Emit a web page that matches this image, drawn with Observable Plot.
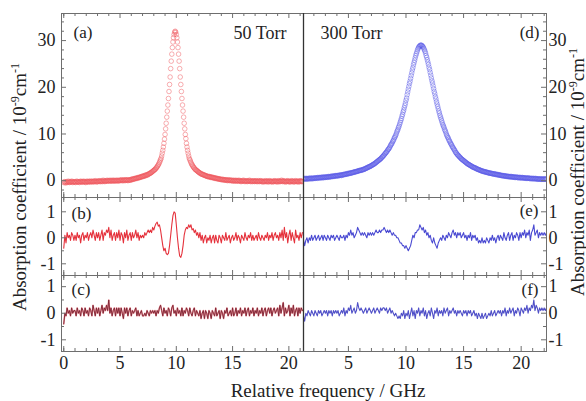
<!DOCTYPE html>
<html><head><meta charset="utf-8">
<script src="https://cdn.jsdelivr.net/npm/d3@7"></script>
<script src="https://cdn.jsdelivr.net/npm/@observablehq/plot@0.6"></script>
<style>
body{margin:0;background:#fff;}
#chart{position:relative;width:586px;height:401px;overflow:hidden;font-family:"Liberation Serif","Times New Roman",serif;color:#222;}
.ttl{position:absolute;font-size:19px;white-space:nowrap;line-height:1;}
.ttl sup{font-size:12px;vertical-align:7px;line-height:0;}
</style></head>
<body><div id="chart"></div>
<script>
// ---------- data ----------
// (a) 50 Torr measured absorption, 10^-9 cm^-1, sampled from 0 GHz every 0.05 GHz
const aStart = 0, aStep = 0.05;
const absA = [
-0.4,-0.2,-0.3,-0.5,-0.3,-0.2,-0.4,-0.3,-0.1,-0.3,-0.4,-0.2,-0.3,-0.3,-0.1,-0.2,-0.4,-0.3,-0.2,-0.3,
-0.2,-0.4,-0.3,-0.1,-0.2,-0.3,-0.3,-0.2,-0.4,-0.2,-0.1,-0.3,-0.2,-0.3,-0.2,-0.1,-0.3,-0.2,-0.2,-0.4,
-0.3,-0.1,-0.2,-0.2,-0.3,-0.1,-0.2,-0.3,-0.1,-0.2,-0.2,-0.1,-0.3,-0.2,-0.1,-0.2,0,-0.2,-0.1,-0.3,
-0.2,-0.1,-0.1,0,-0.2,-0.1,-0.2,0,-0.1,-0.2,0.1,-0.1,0,-0.2,-0.1,0,-0.1,0.1,-0.1,0,
0,-0.1,0.1,0,-0.1,0,0.1,-0.1,0,0.1,0,-0.1,0,0.1,0,0,0.1,-0.1,0,0.1,
0.1,0,0.1,0.2,0,0.1,0,0.2,0.1,0,0.2,0.1,0.1,0.2,0,0.1,0.2,0.1,0.2,0.1,
0.3,0.2,0.4,0.3,0.3,0.4,0.5,0.4,0.5,0.5,0.6,0.5,0.7,0.6,0.7,0.7,0.8,0.7,0.9,0.9,
0.9,1.0,0.9,1.1,1.0,1.2,1.1,1.2,1.3,1.2,1.4,1.4,1.5,1.6,1.6,1.7,1.8,1.9,2.0,2.1,
2.2,2.3,2.4,2.5,2.7,2.8,3.0,3.2,3.4,3.6,3.9,4.2,4.5,4.8,5.3,5.9,6.5,7.2,8.0,8.9,
9.9,11.1,12.3,13.6,14.9,16.2,17.6,19.1,20.6,22.2,24.0,25.6,27.1,28.5,29.7,30.6,31.3,31.8,32.0,
31.8,31.3,30.6,29.7,28.5,27.1,25.6,24.0,22.2,20.6,19.1,17.6,16.2,14.9,13.6,12.3,11.1,9.9,9.0,
8.0,7.2,6.5,5.9,5.3,4.8,4.5,4.2,3.9,3.6,3.4,3.2,3.0,2.8,2.7,2.5,2.4,2.3,2.2,
2.1,2.0,1.9,1.8,1.7,1.7,1.5,1.5,1.4,1.4,1.3,1.3,1.2,1.2,1.1,1.1,1.0,1.0,0.9,0.9,
0.9,0.8,0.9,0.8,0.7,0.8,0.7,0.7,0.6,0.7,0.6,0.5,0.6,0.5,0.5,0.4,0.5,0.4,0.4,0.3,
0.4,0.3,0.3,0.2,0.3,0.2,0.3,0.2,0.1,0.2,0.2,0.1,0.2,0.1,0.0,0.1,0.2,0.1,0.0,0.1,
0.1,0.0,0.1,-0.1,0.0,0.1,0.0,-0.1,0.0,0.1,-0.1,0.0,0.0,-0.1,0.1,0.0,-0.1,0.0,-0.2,-0.1,
0.0,-0.1,0.1,-0.1,0.0,-0.2,-0.1,0.0,-0.1,-0.2,0.0,-0.1,-0.1,0.1,-0.1,-0.2,0.0,-0.1,-0.2,-0.1,
-0.1,0.0,-0.2,-0.1,-0.1,0.0,-0.2,-0.1,-0.2,0.0,-0.1,-0.2,-0.1,0.0,-0.1,-0.2,-0.1,-0.3,-0.1,-0.2,
-0.1,-0.2,0.0,-0.2,-0.1,-0.1,-0.3,-0.1,-0.2,0.0,-0.1,-0.2,-0.2,-0.1,-0.3,-0.1,-0.2,-0.1,0.0,-0.2,
-0.1,-0.2,-0.1,-0.3,-0.1,0.0,-0.2,-0.1,-0.2,-0.1,0.1,-0.1,-0.2,0.0,-0.1,-0.2,-0.1,-0.3,-0.1,-0.2,
-0.1,0.0,-0.2,-0.1,-0.2,-0.3,-0.1,-0.2,0.0,-0.1,-0.2,-0.1,-0.3,-0.2,-0.1,0.0,-0.2,-0.1,-0.2,-0.1,-0.3,-0.1,-0.2,0.0,-0.1,-0.2,-0.1,-0.2
];
// (d) 300 Torr measured absorption, sampled from 1.1 GHz every 0.05 GHz
const dStart = 1.1, dStep = 0.05;
const absD = [
0.4,0.3,0.5,0.4,0.4,0.5,0.3,0.4,0.5,0.4,0.5,0.4,0.6,0.4,0.5,0.5,0.4,0.6,0.5,0.5,
0.6,0.5,0.6,0.6,0.5,0.7,0.6,0.6,0.7,0.6,0.7,0.6,0.7,0.8,0.6,0.7,0.8,0.7,0.7,0.8,
0.8,0.7,0.8,0.9,0.8,0.8,0.9,0.8,0.9,1.0,0.9,0.9,1.0,0.9,1.0,1.1,1.0,1.0,1.1,1.1,
1.0,1.1,1.2,1.1,1.2,1.2,1.1,1.3,1.2,1.3,1.3,1.4,1.3,1.4,1.4,1.5,1.4,1.5,1.6,1.5,
1.6,1.6,1.6,1.7,1.7,1.7,1.8,1.8,1.8,1.9,1.9,1.9,2.0,2.0,2.0,2.1,2.1,2.2,2.2,2.2,
2.2,2.3,2.3,2.4,2.4,2.4,2.5,2.6,2.6,2.7,2.7,2.8,2.9,2.9,3.0,3.0,3.1,3.2,3.2,3.3,
3.4,3.5,3.5,3.6,3.7,3.8,3.9,4.0,4.1,4.2,4.3,4.4,4.5,4.6,4.7,4.8,5.0,5.1,5.2,5.4,
5.5,5.7,5.8,6.0,6.1,6.3,6.5,6.7,6.8,7.0,7.2,7.5,7.7,7.9,8.1,8.4,8.6,8.9,9.2,9.4,
9.7,10.0,10.4,10.7,11.0,11.4,11.7,12.1,12.5,12.9,13.3,13.8,14.2,14.7,15.1,15.6,16.1,16.6,17.2,17.7,
18.4,19.0,19.6,20.2,20.8,21.3,21.9,22.5,23.1,23.7,24.2,24.8,25.3,25.8,26.3,26.8,27.2,27.6,28.0,28.3,
28.6,28.7,28.9,29.0,29.0,
29.0,28.9,28.7,28.6,28.3,28.0,27.7,27.3,26.8,26.4,25.9,25.4,24.9,24.3,23.8,23.2,22.6,22.0,21.4,
20.9,20.3,19.7,19.1,18.6,18.0,17.5,16.9,16.4,15.9,15.4,14.9,14.5,14.0,13.6,13.2,12.8,12.4,12.0,11.7,
11.4,11.0,10.7,10.4,10.0,9.7,9.4,9.2,8.9,8.6,8.4,8.1,7.9,7.7,7.4,7.2,7.0,6.8,6.6,6.4,
6.1,6.0,5.8,5.6,5.5,5.4,5.2,5.1,5.0,4.8,4.7,4.6,4.5,4.4,4.3,4.2,4.1,4.0,3.9,3.8,
3.7,3.6,3.5,3.5,3.4,3.3,3.2,3.2,3.1,3.0,2.9,2.9,2.8,2.8,2.7,2.7,2.6,2.5,2.5,2.4,
2.4,2.3,2.3,2.2,2.2,2.1,2.1,2.0,2.0,2.0,1.9,1.9,1.9,1.8,1.8,1.8,1.7,1.7,1.7,1.6,
1.6,1.6,1.6,1.5,1.5,1.5,1.4,1.5,1.4,1.4,1.3,1.4,1.3,1.3,1.2,1.3,1.2,1.2,1.2,1.1,
1.1,1.1,1.1,1.0,1.1,1.0,1.0,1.0,0.9,1.0,0.9,0.9,0.9,0.9,0.8,0.9,0.8,0.9,0.8,0.8,
0.8,0.8,0.7,0.8,0.7,0.7,0.8,0.7,0.7,0.6,0.7,0.7,0.6,0.7,0.6,0.6,0.7,0.6,0.6,0.6,
0.6,0.5,0.6,0.5,0.6,0.5,0.5,0.6,0.5,0.5,0.4,0.5,0.5,0.4,0.5,0.4,0.5,0.4,0.4,0.5,
0.4,0.4,0.3,0.4,0.4,0.3,0.4,0.3,0.4,0.3,0.3,0.4,0.3,0.3,0.4,0.3,0.3,0.4,0.3
];
// residuals, every 0.1 GHz
const resStep = 0.1;
const resB = [ // (b) 50 Torr, first model, from 0 GHz
-0.4,0.1,-0.2,0.2,0.0,0.1,-0.1,0.2,0.1,-0.1,
0.1,-0.1,0.2,0.0,0.1,-0.2,0.1,0.2,-0.1,0.1,
0.0,0.2,-0.1,0.1,0.2,0.0,0.3,0.1,-0.1,0.2,
0.0,0.2,-0.1,0.1,0.3,-0.1,0.2,0.1,0.3,0.2,
0.4,0.0,0.3,-0.1,0.1,0.2,-0.1,0.2,0.0,0.3,
-0.1,0.2,0.1,-0.2,0.2,0.0,0.3,-0.1,0.1,0.2,
-0.1,0.2,0.0,0.1,0.3,0.0,0.2,-0.1,0.1,0.0,
0.1,0.0,0.2,0.1,0.2,0.3,0.2,0.3,0.2,0.4,
0.3,0.45,0.55,0.6,0.45,0.5,0.3,0.0,-0.3,-0.5,
-0.4,-0.6,-0.65,-0.6,-0.3,0.1,0.5,0.85,1.0,0.95,
0.5,0.0,-0.4,-0.7,-0.75,-0.6,-0.3,0.1,0.3,0.4,
0.35,0.5,0.4,0.5,0.3,0.35,0.2,0.3,0.1,0.2,
0.0,0.2,-0.1,0.1,-0.2,0.0,0.1,-0.2,0.0,-0.1,
0.1,-0.2,0.0,0.1,-0.2,0.1,-0.1,-0.2,0.1,0.0,
-0.2,0.1,0.0,-0.1,0.2,-0.1,0.0,0.1,-0.2,0.0,
0.1,-0.1,0.0,0.2,-0.1,0.1,0.0,-0.2,0.1,0.0,
-0.1,0.2,0.0,-0.1,0.1,0.0,0.2,-0.1,0.1,-0.1,
0.0,0.1,-0.1,0.2,0.0,-0.1,0.1,0.0,-0.1,0.1,
0.0,0.2,-0.1,0.1,0.0,0.2,-0.1,0.1,0.2,0.0,
0.1,-0.1,0.2,0.0,0.3,-0.1,0.4,0.0,0.2,-0.2,
0.1,0.3,-0.1,0.2,0.0,-0.2,0.3,0.0,0.1,-0.1,
0.2,0.0,0.2
];
const resC = [ // (c) 50 Torr, second model, from 0 GHz
-0.4,0.0,-0.1,0.2,0.0,0.1,-0.1,0.2,0.0,0.1,
0.1,-0.1,0.2,0.0,0.1,-0.1,0.2,0.1,-0.1,0.2,
0.0,0.1,-0.1,0.2,0.1,-0.1,0.3,0.1,-0.1,0.2,
0.0,0.2,-0.1,0.1,0.3,0.0,0.2,0.1,0.3,0.1,
0.5,0.0,0.2,-0.1,0.1,0.2,-0.1,0.2,0.0,0.2,
-0.1,0.2,0.0,-0.2,0.2,0.0,0.2,-0.1,0.1,0.2,
-0.1,0.1,0.0,0.1,0.2,-0.1,0.1,-0.1,0.0,0.1,
-0.1,-0.1,0.0,-0.1,0.1,0.0,-0.1,0.1,0.0,0.1,
0.0,0.1,-0.1,0.1,0.0,0.2,0.3,0.1,-0.1,0.2,
0.0,0.1,-0.1,0.2,0.1,-0.1,0.2,0.3,0.0,0.1,
-0.1,0.2,0.0,0.1,-0.1,0.2,-0.1,0.1,0.0,0.2,
0.1,-0.1,0.2,0.0,-0.1,0.1,0.2,-0.1,0.1,0.0,
-0.1,0.1,-0.2,0.0,0.1,-0.2,0.1,0.0,-0.2,0.1,
0.0,-0.2,0.1,0.0,-0.1,0.2,-0.1,0.0,0.1,-0.2,
0.1,0.0,-0.2,0.1,0.0,0.2,-0.1,0.0,0.1,-0.1,
0.2,-0.1,0.0,0.2,-0.1,0.1,0.0,0.2,-0.1,0.1,
0.0,0.2,-0.1,0.1,0.2,-0.1,0.1,0.0,0.2,-0.1,
0.1,0.0,0.2,-0.1,0.1,0.0,0.2,-0.1,0.1,0.2,
-0.1,0.1,0.2,0.0,0.2,-0.1,0.1,0.2,0.0,0.1,
0.2,-0.1,0.3,0.0,0.2,0.4,-0.1,0.2,0.0,0.1,
0.3,-0.1,0.2,0.0,0.3,-0.1,0.1,0.2,-0.1,0.2,
0.0,0.2,0.1
];
const resE = [ // (e) 300 Torr, first model, from 1.1 GHz
-0.1,-0.3,-0.1,0.0,-0.2,0.0,-0.1,0.1,-0.1,0.0,
0.1,-0.1,0.0,0.1,-0.1,0.0,0.1,-0.1,0.1,0.0,
-0.1,0.1,0.0,-0.1,0.1,0.0,0.1,-0.1,0.0,0.1,
0.0,-0.1,0.1,0.0,0.0,0.1,-0.1,0.1,0.0,0.2,
0.1,0.3,0.1,0.2,0.0,0.1,0.2,0.4,0.3,0.2,
0.1,0.2,0.1,0.2,0.1,0.0,0.2,0.1,0.2,0.1,
0.2,0.1,0.2,0.3,0.2,0.2,0.3,0.2,0.3,0.3,
0.4,0.3,0.2,0.3,0.2,0.3,0.2,0.1,0.2,0.1,
0.1,0.0,0.0,-0.1,-0.2,-0.2,-0.3,-0.3,-0.4,-0.3,
-0.4,-0.5,-0.4,-0.3,-0.1,0.1,0.0,0.2,0.2,0.3,
0.3,0.5,0.4,0.3,0.4,0.2,0.3,0.1,0.2,0.0,
0.1,-0.1,-0.2,0.0,-0.2,-0.3,-0.4,-0.2,-0.1,0.0,
-0.1,0.1,0.0,-0.1,0.1,0.0,0.2,0.1,0.0,0.2,
0.3,0.1,0.2,0.0,0.2,0.1,0.2,0.0,0.1,0.2,
0.0,0.1,-0.1,0.1,0.0,0.2,-0.1,0.1,0.0,0.1,
-0.1,0.0,-0.2,-0.1,-0.2,0.0,-0.2,-0.1,-0.2,0.0,
-0.1,-0.2,0.0,-0.1,0.1,-0.1,0.0,-0.2,0.0,0.1,
-0.1,0.1,0.0,-0.1,0.2,0.0,-0.1,0.1,0.2,-0.1,
0.1,0.2,-0.1,0.1,0.0,0.2,0.1,-0.1,0.2,0.0,
0.2,0.1,0.3,0.0,0.2,0.1,0.3,-0.1,0.2,0.3,
0.5,0.1,0.2,0.3,0.0,0.2,0.1,0.2,0.1,0.2,
0.1,0.2
];
const resF = [ // (f) 300 Torr, second model, from 1.1 GHz
-0.1,-0.3,0.0,-0.1,0.1,0.0,-0.1,0.1,0.0,-0.1,
0.1,0.0,-0.1,0.1,0.0,0.1,-0.1,0.0,0.1,0.0,
0.1,-0.1,0.1,0.0,0.1,-0.1,0.1,0.0,0.1,0.0,
0.1,-0.1,0.0,0.1,0.0,0.2,-0.1,0.1,0.0,0.2,
0.1,0.3,0.0,0.1,0.2,0.0,0.1,0.4,0.2,0.1,
0.2,0.1,0.0,0.1,0.2,0.0,0.1,0.2,0.1,0.0,
0.1,0.2,0.0,0.1,0.2,0.1,0.0,0.2,0.1,0.2,
0.2,0.1,0.2,0.0,0.1,0.2,0.0,0.1,0.0,-0.1,
0.0,-0.1,-0.2,-0.1,-0.2,0.0,-0.1,0.1,-0.2,0.0,
-0.1,0.1,-0.2,0.0,0.2,-0.1,0.1,-0.2,0.1,0.0,
0.2,-0.1,0.1,0.0,0.2,-0.1,0.1,-0.2,0.0,0.1,
-0.1,0.2,0.0,-0.2,0.1,0.0,0.2,-0.1,0.1,0.0,
0.1,-0.1,0.2,0.0,0.1,0.2,-0.1,0.1,0.0,0.1,
0.2,0.0,0.1,-0.1,0.1,0.0,0.1,0.0,-0.1,0.1,
0.0,0.1,-0.1,0.1,0.0,0.1,-0.1,0.0,0.1,-0.1,
0.0,-0.2,0.0,-0.1,-0.2,0.0,-0.2,-0.1,0.0,-0.2,
-0.1,0.0,-0.1,0.1,-0.1,0.0,0.1,-0.1,0.0,0.1,
0.0,0.1,-0.1,0.1,0.0,0.2,-0.1,0.1,0.0,0.2,
0.0,0.1,0.2,-0.1,0.1,0.0,0.2,0.1,-0.1,0.2,
0.1,0.0,0.2,0.1,0.3,0.0,0.2,0.1,0.3,0.2,
0.5,0.1,0.3,0.2,0.0,0.2,0.1,0.2,0.1,0.2,
0.1,0.2
];
// axes
const xDomainL = [-0.2, 21.3], xDomainR = [1.1, 22.2];
const xTicksL = [0, 5, 10, 15, 20], xTicksR = [5, 10, 15, 20];
const xMinor = [0,1,2,3,4,6,7,8,9,11,12,13,14,16,17,18,19,21,22];
const yDomainPeak = [-3.6, 35.8], yTicksPeak = [0, 10, 20, 30], yMinorPeak = [-2,2,4,6,8,12,14,16,18,22,24,26,28,32,34];
const yDomainRes1 = [-1.45, 1.55], yDomainRes2 = [-1.44, 1.42];
const yTicksRes = [-1, 0, 1], yMinorRes = [-0.5, 0.5];
const panelLabels = ["(a)", "(b)", "(c)", "(d)", "(e)", "(f)"];
const pressures = ["50 Torr", "300 Torr"];
const xTitle = "Relative frequency / GHz";

// ---------- drawing ----------
const chart = document.getElementById("chart");
const SERIF = "Liberation Serif, Times New Roman, serif";
const INK = "#222";
const FRAME = "#6e6e6e";
const series = (vals, start, step) => vals.map((v, i) => ({f: +(start + i * step).toFixed(3), v}));

function addPanel({left, top, w, h, side, bottom, xDomain, yDomain, yTicks, yMinor, xTicks, marks, labels}) {
  const ml = side === "left" ? 50 : 2, mr = side === "right" ? 40 : 2, mt = 2, mb = bottom ? 30 : 2;
  const minorX = xMinor.filter(d => d > xDomain[0] && d < xDomain[1]);
  const tickMarks = [
    Plot.frame({stroke: FRAME, strokeWidth: 1}),
    side === "left"
      ? Plot.tickY(yTicks, {y: d => d, insetRight: w - 5, stroke: FRAME})
      : Plot.tickY(yTicks, {y: d => d, insetLeft: w - 5, stroke: FRAME}),
    side === "left"
      ? Plot.tickY(yMinor, {y: d => d, insetRight: w - 3, stroke: FRAME})
      : Plot.tickY(yMinor, {y: d => d, insetLeft: w - 3, stroke: FRAME}),
    Plot.tickX(xTicks, {x: d => d, insetTop: h - 5, stroke: FRAME}),
    Plot.tickX(minorX, {x: d => d, insetTop: h - 3, stroke: FRAME}),
    Plot.tickX(xTicks, {x: d => d, insetBottom: h - 5, stroke: FRAME}),
    Plot.tickX(minorX, {x: d => d, insetBottom: h - 3, stroke: FRAME}),
    Plot.axisY(yTicks, {anchor: side, label: null, tickSize: 0, tickPadding: side === "left" ? 6 : 2, fontSize: 18, fontFamily: SERIF, fill: INK, tickFormat: d => String(d)})
  ];
  if (bottom) tickMarks.push(Plot.axisX(bottom, {anchor: "bottom", label: null, tickSize: 0, tickPadding: 5, fontSize: 18, fontFamily: SERIF, fill: INK, tickFormat: d => String(d)}));
  if (side === "right") tickMarks.push(Plot.ruleX([xDomain[0]], {stroke: "#333", strokeWidth: 1.3}));
  const svg = Plot.plot({
    width: w + ml + mr, height: h + mt + mb,
    marginLeft: ml, marginRight: mr, marginTop: mt, marginBottom: mb,
    style: `background: transparent; overflow: visible; font-family: ${SERIF}; color: ${INK};`,
    x: bottom ? {domain: xDomain, label: null} : {domain: xDomain, axis: null},
    y: {domain: yDomain, label: null},
    marks: [...marks, ...tickMarks, ...labels]
  });
  svg.style.position = "absolute";
  svg.style.left = (left - ml) + "px";
  svg.style.top = (top - mt) + "px";
  chart.appendChild(svg);
}

const txt = (s, anchor, dx, dy, size) => Plot.text([s], {text: d => d, frameAnchor: anchor, dx, dy, fontSize: size, fontFamily: SERIF, fill: INK});

const L = 61, M = 303, R = 546, T = 13, Y1 = 197, Y2 = 275, B = 351;
const redDot = {x: "f", y: "v", r: 2.3, fill: "none", stroke: "#ee5a5f", strokeOpacity: 0.55, strokeWidth: 0.9, clip: true};
const blueDot = {x: "f", y: "v", r: 2.3, fill: "none", stroke: "#5c5ce6", strokeOpacity: 0.55, strokeWidth: 0.9, clip: true};

// (a)
addPanel({left: L, top: T, w: M - L, h: Y1 - T, side: "left", xDomain: xDomainL, yDomain: yDomainPeak,
  yTicks: yTicksPeak, yMinor: yMinorPeak, xTicks: xTicksL,
  marks: [Plot.dot(series(absA, aStart, aStep), redDot)],
  labels: [txt(panelLabels[0], "top-left", 12, 12, 17), txt(pressures[0], "top-right", -17, 13, 18)]});
// (b)
addPanel({left: L, top: Y1, w: M - L, h: Y2 - Y1, side: "left", xDomain: xDomainL, yDomain: yDomainRes1,
  yTicks: yTicksRes, yMinor: yMinorRes, xTicks: xTicksL,
  marks: [Plot.line(series(resB, 0, resStep), {x: "f", y: "v", stroke: "#e5323c", strokeWidth: 1.1, clip: true})],
  labels: [txt(panelLabels[1], "top-left", 10, 9, 17)]});
// (c)
addPanel({left: L, top: Y2, w: M - L, h: B - Y2, side: "left", bottom: xTicksL, xDomain: xDomainL, yDomain: yDomainRes2,
  yTicks: yTicksRes, yMinor: yMinorRes, xTicks: xTicksL,
  marks: [Plot.line(series(resC, 0, resStep), {x: "f", y: "v", stroke: "#e04a55", strokeWidth: 1.6, strokeOpacity: 0.6, clip: true}),
          Plot.line(series(resC, 0, resStep), {x: "f", y: "v", stroke: "#7a2232", strokeWidth: 0.9, clip: true})],
  labels: [txt(panelLabels[2], "top-left", 10, 7, 17)]});
// (d)
addPanel({left: M, top: T, w: R - M, h: Y1 - T, side: "right", xDomain: xDomainR, yDomain: yDomainPeak,
  yTicks: yTicksPeak, yMinor: yMinorPeak, xTicks: xTicksR,
  marks: [Plot.dot(series(absD, dStart, dStep), blueDot)],
  labels: [txt(pressures[1], "top-left", 17, 13, 18), txt(panelLabels[3], "top-right", -7, 12, 17)]});
// (e)
addPanel({left: M, top: Y1, w: R - M, h: Y2 - Y1, side: "right", xDomain: xDomainR, yDomain: yDomainRes1,
  yTicks: yTicksRes, yMinor: yMinorRes, xTicks: xTicksR,
  marks: [Plot.line(series(resE, 1.1, resStep), {x: "f", y: "v", stroke: "#4a4ad2", strokeWidth: 1.1, clip: true})],
  labels: [txt(panelLabels[4], "top-right", -8, 6, 17)]});
// (f)
addPanel({left: M, top: Y2, w: R - M, h: B - Y2, side: "right", bottom: xTicksR, xDomain: xDomainR, yDomain: yDomainRes2,
  yTicks: yTicksRes, yMinor: yMinorRes, xTicks: xTicksR,
  marks: [Plot.line(series(resF, 1.1, resStep), {x: "f", y: "v", stroke: "#5050c8", strokeWidth: 1.1, clip: true})],
  labels: [txt(panelLabels[5], "top-right", -8, 7, 17)]});

// titles
function title(html, cx, cy, rot) {
  const d = document.createElement("div");
  d.className = "ttl";
  d.innerHTML = html;
  d.style.left = cx + "px";
  d.style.top = cy + "px";
  d.style.transform = `translate(-50%, -50%)${rot ? " rotate(-90deg)" : ""}`;
  chart.appendChild(d);
}
const yTitle = "Absorption coefficient / 10<sup>-9</sup>cm<sup>-1</sup>";
title(yTitle, 19, 187, true);
title(yTitle, 577, 172, true);
title(xTitle, 328, 390, false);
</script>
</body></html>
